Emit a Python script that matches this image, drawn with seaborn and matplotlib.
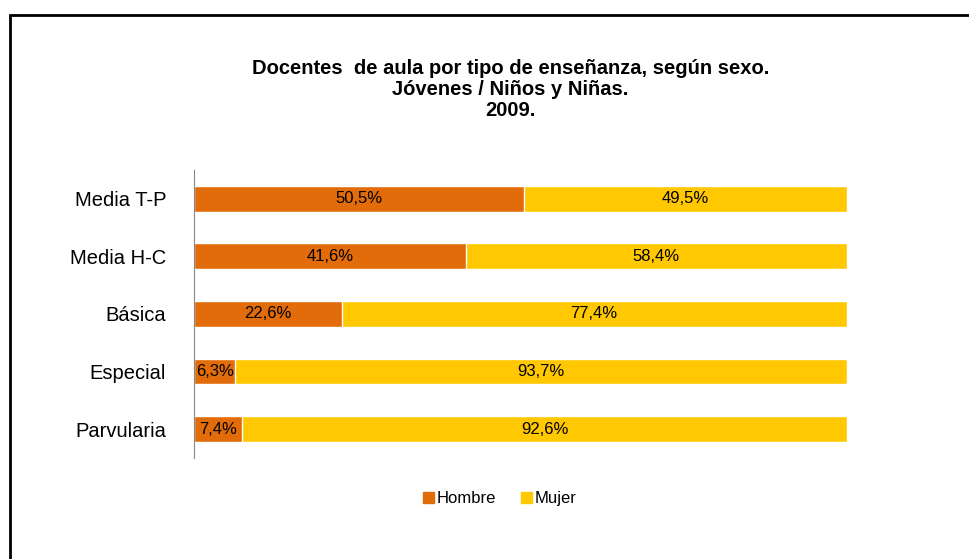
import numpy as np
import pandas as pd
import matplotlib.pyplot as plt
import seaborn as sns
from matplotlib.patches import Patch, Rectangle

categorias = ['Media T-P', 'Media H-C', 'Básica', 'Especial', 'Parvularia']
hombre = [50.5, 41.6, 22.6, 6.3, 7.4]
mujer = [49.5, 58.4, 77.4, 93.7, 92.6]

sns.set_style("white")
plt.rcParams['font.family'] = ['Liberation Sans', 'DejaVu Sans']
plt.rcParams['text.color'] = 'black'

naranja = '#E36C0A'
amarillo = '#FFC800'

data = pd.DataFrame({'cat': categorias, 'hombre': hombre, 'mujer': mujer})
data['total'] = data['hombre'] + data['mujer']

fig = plt.figure(figsize=(9.7, 5.59), dpi=100)
ax = fig.add_axes([0.2, 0.181, 0.673, 0.515])

sns.barplot(data=data, x='total', y='cat', color=amarillo, orient='h',
            width=0.45, ax=ax, saturation=1)
sns.barplot(data=data, x='hombre', y='cat', color=naranja, orient='h',
            width=0.45, ax=ax, saturation=1)

for i, (h, m) in enumerate(zip(hombre, mujer)):
    ax.text(h / 2, i, f'{h:.1f}%'.replace('.', ','), ha='center', va='center', fontsize=12)
    ax.text(h + m / 2, i, f'{m:.1f}%'.replace('.', ','), ha='center', va='center', fontsize=12)

ax.set_xlim(0, 100)
ax.set_ylim(len(categorias) - 0.5, -0.5)
ax.set_xlabel('')
ax.set_ylabel('')
ax.set_xticks([])
for s in ['top', 'right', 'bottom']:
    ax.spines[s].set_visible(False)
ax.spines['left'].set_color('#888888')
ax.tick_params(axis='y', which='major', length=0, labelsize=14.5, pad=20, labelcolor='black')
ax.set_yticks(np.arange(-0.5, len(categorias)), minor=True)
ax.tick_params(axis='y', which='minor', length=5, color='#888888', width=1)

fig.text(0.526, 0.84, 'Docentes  de aula por tipo de enseñanza, según sexo.\nJóvenes / Niños y Niñas.\n2009.',
         ha='center', va='center', fontsize=14.5, fontweight='bold', linespacing=1.12)

handles = [Patch(color=naranja, label='Hombre'), Patch(color=amarillo, label='Mujer')]
fig.legend(handles=handles, loc='center', bbox_to_anchor=(0.515, 0.108), ncol=2, frameon=False,
           fontsize=12, handlelength=0.65, handleheight=0.65, handletextpad=0.15, columnspacing=1.5)

fig.patches.append(Rectangle((0.0098, -0.1), 1.1, 1.073, transform=fig.transFigure,
                             fill=False, edgecolor='black', linewidth=2))

fig.savefig('out.png', dpi=100)
